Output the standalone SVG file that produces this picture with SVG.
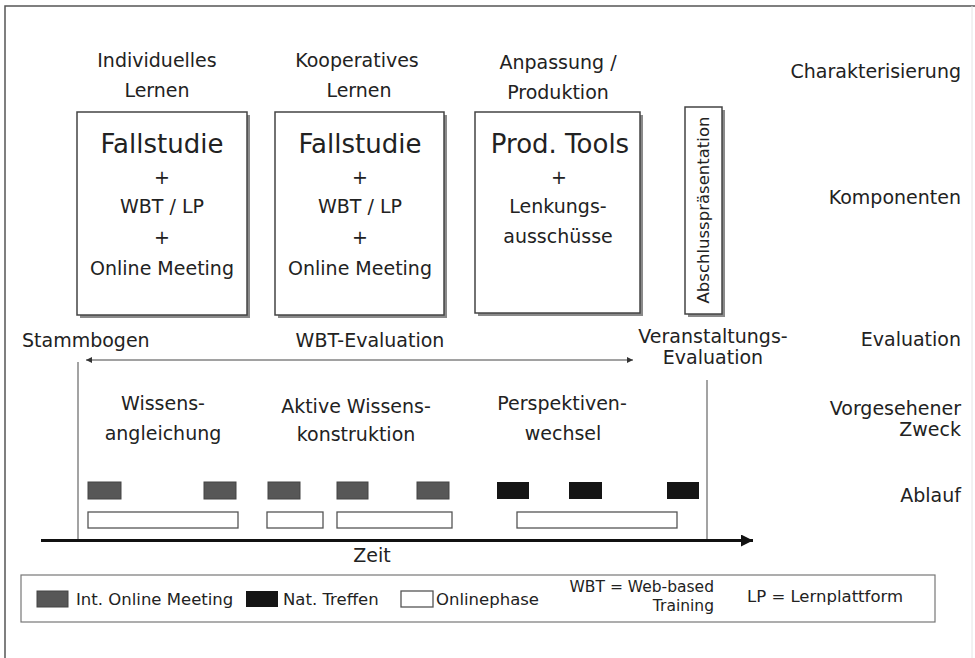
<svg xmlns="http://www.w3.org/2000/svg" width="975" height="658" viewBox="0 0 975 658">
<defs>
<style>
text{font-family:"DejaVu Sans","Liberation Sans",sans-serif;fill:#222}
.h{font-size:19px;text-anchor:middle}
.big{font-size:26px;text-anchor:middle}
.r{font-size:19px;text-anchor:end}
.lg{font-size:16.5px}
.box{fill:#fff;stroke:#444;stroke-width:1.5}
.sh{fill:#8a8a8a}
.gm{fill:#575757;stroke:#444;stroke-width:1}
.bm{fill:#151515}
.op{fill:#fff;stroke:#555;stroke-width:1.3}
</style>
<marker id="ah" viewBox="0 0 10 10" refX="10" refY="5" markerWidth="9" markerHeight="6" orient="auto-start-reverse" markerUnits="userSpaceOnUse"><path d="M0,0 L10,5 L0,10 z" fill="#333"/></marker>
<marker id="ahb" viewBox="0 0 10 10" refX="10" refY="5" markerWidth="14" markerHeight="12" orient="auto" markerUnits="userSpaceOnUse"><path d="M0,0 L10,5 L0,10 z" fill="#111"/></marker>
</defs>
<rect width="975" height="658" fill="#fff"/>
<path d="M5,658 V6 H975" fill="none" stroke="#555" stroke-width="1.5"/>
<line x1="972" y1="6" x2="972" y2="658" stroke="#e4e4e4" stroke-width="1"/>

<g id="col-individuell">
<text class="h" x="157" y="67">Individuelles</text>
<text class="h" x="157" y="97">Lernen</text>
<rect class="sh" x="80" y="115" width="170" height="203"/>
<rect class="box" x="77" y="112" width="170" height="203"/>
<text class="big" x="162" y="153">Fallstudie</text>
<text class="h" x="162" y="184">+</text>
<text class="h" x="162" y="213">WBT / LP</text>
<text class="h" x="162" y="244">+</text>
<text class="h" x="162" y="275">Online Meeting</text>
</g>

<g id="col-kooperativ">
<text class="h" x="357" y="67">Kooperatives</text>
<text class="h" x="359" y="97">Lernen</text>
<rect class="sh" x="278" y="115" width="169" height="203"/>
<rect class="box" x="275" y="112" width="169" height="203"/>
<text class="big" x="360" y="153">Fallstudie</text>
<text class="h" x="360" y="184">+</text>
<text class="h" x="360" y="213">WBT / LP</text>
<text class="h" x="360" y="244">+</text>
<text class="h" x="360" y="275">Online Meeting</text>
</g>

<g id="col-anpassung">
<text class="h" x="558" y="69">Anpassung /</text>
<text class="h" x="558" y="99">Produktion</text>
<rect class="sh" x="478" y="115" width="165" height="201"/>
<rect class="box" x="475" y="112" width="165" height="201"/>
<text class="big" x="560" y="153">Prod. Tools</text>
<text class="h" x="559" y="184">+</text>
<text class="h" x="558" y="213">Lenkungs-</text>
<text class="h" x="558" y="243">ausschüsse</text>
</g>

<g id="abschluss">
<rect class="sh" x="688" y="110" width="37" height="207"/>
<rect class="box" x="685" y="107" width="37" height="207"/>
<text x="709" y="210" font-size="16.5" text-anchor="middle" transform="rotate(-90 709 210)">Abschlusspräsentation</text>
</g>

<g id="labels-right">
<text class="r" x="961" y="78">Charakterisierung</text>
<text class="r" x="961" y="204">Komponenten</text>
<text class="r" x="961" y="346">Evaluation</text>
<text class="r" x="961" y="415">Vorgesehener</text>
<text class="r" x="961" y="436">Zweck</text>
<text class="r" x="961" y="502">Ablauf</text>
</g>

<g id="evaluation">
<text x="22" y="347" font-size="19">Stammbogen</text>
<text class="h" x="370" y="347">WBT-Evaluation</text>
<text class="h" x="713" y="343">Veranstaltungs-</text>
<text class="h" x="713" y="364">Evaluation</text>
</g>

<g id="zweck">
<text class="h" x="163" y="410">Wissens-</text>
<text class="h" x="163" y="440">angleichung</text>
<text class="h" x="356" y="413">Aktive Wissens-</text>
<text class="h" x="356" y="441">konstruktion</text>
<text class="h" x="562" y="410">Perspektiven-</text>
<text class="h" x="563" y="440">wechsel</text>
</g>

<g id="connectors">
<line x1="86" y1="360" x2="633" y2="360" stroke="#444" stroke-width="1" marker-start="url(#ah)" marker-end="url(#ah)"/>
<line x1="78" y1="362" x2="78" y2="540" stroke="#666" stroke-width="1.2"/>
<line x1="707" y1="380" x2="707" y2="540" stroke="#666" stroke-width="1.2"/>
<line x1="41" y1="540.5" x2="753" y2="540.5" stroke="#111" stroke-width="3" marker-end="url(#ahb)"/>
</g>

<g id="ablauf">
<rect class="gm" x="88" y="482" width="33" height="17"/>
<rect class="gm" x="204" y="482" width="32" height="17"/>
<rect class="gm" x="268" y="482" width="32" height="17"/>
<rect class="gm" x="337" y="482" width="31" height="17"/>
<rect class="gm" x="417" y="482" width="32" height="17"/>
<rect class="bm" x="497" y="482" width="32" height="17"/>
<rect class="bm" x="569" y="482" width="33" height="17"/>
<rect class="bm" x="667" y="482" width="32" height="17"/>
<rect class="op" x="88" y="512" width="150" height="16"/>
<rect class="op" x="267" y="512" width="56" height="16"/>
<rect class="op" x="337" y="512" width="115" height="16"/>
<rect class="op" x="517" y="512" width="160" height="16"/>
<text class="h" x="372" y="562">Zeit</text>
</g>

<g id="legende">
<rect x="21" y="575" width="914" height="47" fill="#fff" stroke="#777" stroke-width="1.2"/>
<rect class="gm" x="37" y="591" width="31" height="16"/>
<text class="lg" x="76" y="605">Int. Online Meeting</text>
<rect class="bm" x="246" y="591" width="32" height="16"/>
<text class="lg" x="283" y="605">Nat. Treffen</text>
<rect class="op" x="401" y="591" width="32" height="16"/>
<text class="lg" x="436" y="605">Onlinephase</text>
<text x="714" y="592" font-size="15.5" text-anchor="end">WBT = Web-based</text>
<text x="714" y="611" font-size="15.5" text-anchor="end">Training</text>
<text class="lg" x="747" y="602">LP = Lernplattform</text>
</g>
</svg>
